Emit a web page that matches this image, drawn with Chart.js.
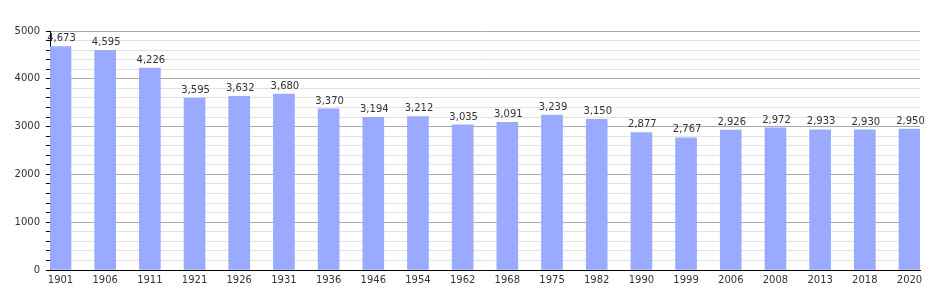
<!DOCTYPE html>
<html>
<head>
<meta charset="utf-8">
<script src="https://cdn.jsdelivr.net/npm/chart.js@4"></script>
<style>
  html, body { margin: 0; padding: 0; background: #fff; }
  #wrap { width: 950px; height: 300px; }
</style>
</head>
<body>
<div id="wrap"><canvas id="chart"></canvas></div>
<script>
var years = ['1901', '1906', '1911', '1921', '1926', '1931', '1936', '1946', '1954', '1962',
             '1968', '1975', '1982', '1990', '1999', '2006', '2008', '2013', '2018', '2020'];
var population = [4673, 4595, 4226, 3595, 3632, 3680, 3370, 3194, 3212, 3035,
                  3091, 3239, 3150, 2877, 2767, 2926, 2972, 2933, 2930, 2950];
var yTicks = [0, 1000, 2000, 3000, 4000, 5000];

// value labels on top of each bar
var valueLabels = {
    id: 'valueLabels',
    afterDatasetsDraw: function(chart) {
        var ctx = chart.ctx;
        var meta = chart.getDatasetMeta(0);
        ctx.save();
        ctx.font = '10px "DejaVu Sans", sans-serif';
        ctx.fillStyle = '#333';
        ctx.textAlign = 'center';
        ctx.textBaseline = 'bottom';
        meta.data.forEach(function(bar, i) {
            ctx.fillText(population[i].toLocaleString('en-US'), bar.x + 1, bar.y - 3);
        });
        ctx.restore();
    }
};

new Chart(document.getElementById('chart').getContext('2d'), {
    type: 'bar',
    data: {
        datasets: [{
            data: population.map(function(v, i) { return {x: i, y: v}; }),
            backgroundColor: '#99aaff',
            borderWidth: 0,
            barThickness: 21
        }]
    },
    options: {
        responsive: true,
        maintainAspectRatio: false,
        animation: false,
        layout: { padding: { top: 31, right: 30, left: 0, bottom: 0 } },
        plugins: { legend: { display: false }, tooltip: { enabled: false } },
        scales: {
            x: {
                type: 'linear',
                offset: false,
                min: -0.235,
                max: years.length - 1 + 0.235,
                afterBuildTicks: function(s) {
                    s.ticks = years.map(function(y, i) { return {value: i}; });
                },
                afterFit: function(s) { s.height = 30; },
                grid: { display: false, drawTicks: false },
                border: { color: '#000', width: 1 },
                ticks: {
                    autoSkip: false,
                    maxRotation: 0,
                    padding: 4,
                    color: '#333',
                    font: { family: '"DejaVu Sans", sans-serif', size: 10 },
                    callback: function(v) { return years[v]; }
                }
            },
            y: {
                min: yTicks[0],
                max: yTicks[yTicks.length - 1],
                afterFit: function(s) { s.width = 50; },
                border: { color: '#000', width: 1 },
                grid: {
                    color: function(c) { return c.tick.value % 1000 === 0 ? '#aaaaaa' : '#e2e2e2'; },
                    tickColor: '#000',
                    tickLength: 4
                },
                ticks: {
                    stepSize: 200,
                    autoSkip: false,
                    padding: 6,
                    color: '#333',
                    font: { family: '"DejaVu Sans", sans-serif', size: 10 },
                    callback: function(v) { return yTicks.indexOf(v) >= 0 ? String(v) : ''; }
                }
            }
        }
    },
    plugins: [valueLabels]
});
</script>
</body>
</html>
